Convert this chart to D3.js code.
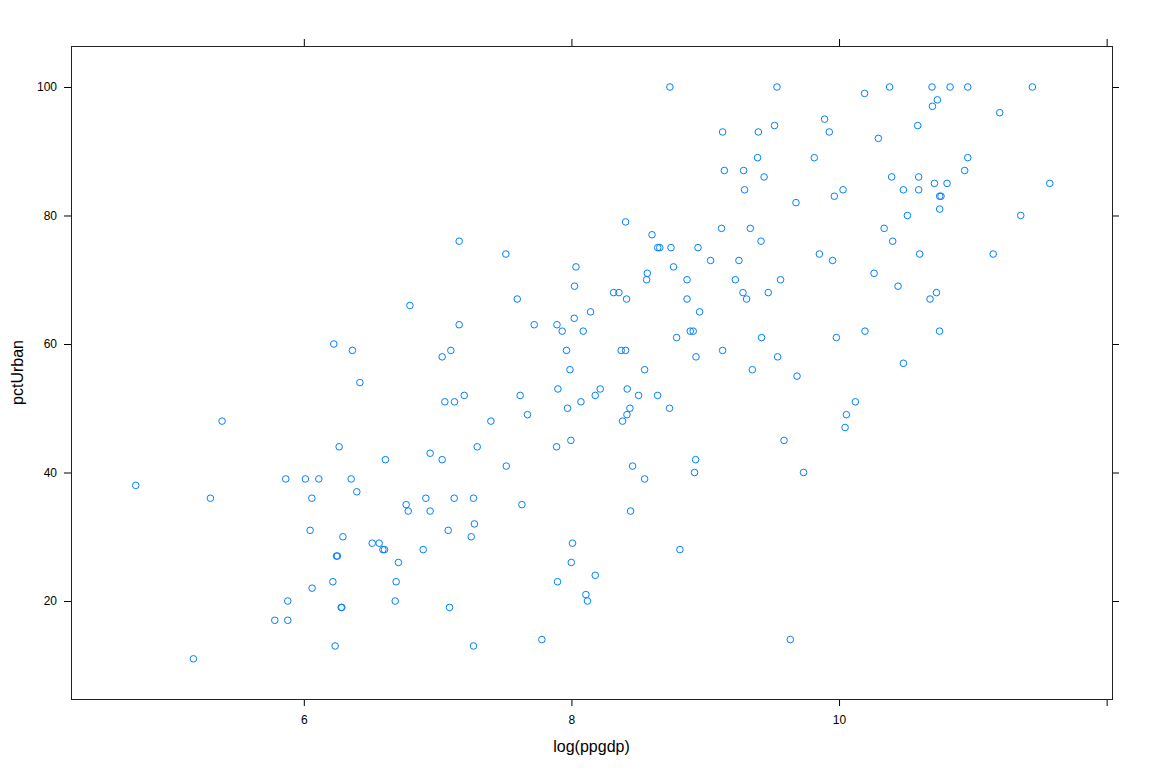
<!DOCTYPE html>
<html>
<head>
<meta charset="utf-8">
<script src="https://cdn.jsdelivr.net/npm/d3@7"></script>
<style>
    body { margin: 0; background: #fff; }
    text { font-family: "Liberation Sans", Arial, Helvetica, sans-serif; }
</style>
</head>
<body>
<div id="chart"></div>
<script>
const width = 1152;
const height = 768;
const margin = { top: 46, right: 40, bottom: 69, left: 71 };

// log(ppgdp) and pctUrban
const logPpgdp = [
    4.744, 5.302, 5.865, 6.012, 6.112, 6.354, 6.396, 6.06, 6.765, 6.78,
    6.912, 6.944, 6.047, 6.292, 6.511, 6.563, 6.591, 6.603, 6.892, 6.244,
    6.251, 6.707, 6.217, 6.69, 6.062, 5.88, 6.683, 6.279, 6.284, 5.783,
    5.88, 6.234, 5.175,
    6.793, 6.224, 6.363, 6.419, 5.389, 6.264, 6.61, 6.944,
    8.736, 9.13, 9.143, 9.287, 9.294, 8.405, 8.602, 8.645, 8.66, 8.744,
    8.946, 9.122, 9.337, 9.04, 9.252, 8.034, 8.763, 8.567, 7.161, 7.51,
    9.536, 10.191, 10.378, 10.695, 10.83, 10.962, 11.445, 10.735, 10.698, 11.201,
    9.892, 9.518, 10.588, 9.397, 9.927, 10.294, 9.391, 9.815, 10.962, 10.939,
    9.44, 10.393, 10.595, 10.713, 10.807, 11.575, 10.03, 10.481, 10.595, 9.965,
    10.752, 10.762, 9.678, 10.752, 10.511, 11.358, 10.337, 9.417, 10.401, 9.853,
    9.952, 10.603, 11.152, 10.262,
    9.563, 10.441, 9.282, 9.471, 10.728, 9.309, 10.68, 9.421, 9.98, 10.194,
    10.751, 9.541, 9.352, 10.481, 9.686, 10.122, 10.055, 10.045, 9.589, 9.735,
    9.636,
    8.562, 8.864, 9.225, 8.023, 8.315, 8.355, 8.412, 8.864, 7.595, 8.143,
    8.958, 8.021, 7.161, 7.722, 7.892, 7.931, 8.088, 8.888, 8.91, 8.786,
    9.13, 8.931, 7.099, 7.034, 7.963, 8.372, 8.405, 7.989, 8.547, 7.899,
    8.215, 8.417, 7.617, 8.178, 8.502, 8.644, 7.199, 7.054, 7.126, 8.071,
    7.971, 8.437, 8.733, 7.672, 8.415, 8.382, 7.398, 7.996, 7.296, 7.889,
    7.034, 8.928, 7.513, 8.457, 8.92,
    8.547, 7.124, 7.268, 7.63, 8.442, 7.275, 7.079, 7.251, 8.008, 8.811,
    7.999, 8.178, 7.896, 8.108, 8.12, 7.089, 7.779, 7.268
];

const pctUrban = [
    38, 36, 39, 39, 39, 39, 37, 36, 35, 34,
    36, 34, 31, 30, 29, 29, 28, 28, 28, 27,
    27, 26, 23, 23, 22, 20, 20, 19, 19, 17,
    17, 13, 11,
    66, 60, 59, 54, 48, 44, 42, 43,
    100, 93, 87, 87, 84, 79, 77, 75, 75, 75,
    75, 78, 78, 73, 73, 72, 72, 71, 76, 74,
    100, 99, 100, 100, 100, 100, 100, 98, 97, 96,
    95, 94, 94, 93, 93, 92, 89, 89, 89, 87,
    86, 86, 86, 85, 85, 85, 84, 84, 84, 83,
    83, 83, 82, 81, 80, 80, 78, 76, 76, 74,
    73, 74, 74, 71,
    70, 69, 68, 68, 68, 67, 67, 61, 61, 62,
    62, 58, 56, 57, 55, 51, 49, 47, 45, 40,
    14,
    70, 70, 70, 69, 68, 68, 67, 67, 67, 65,
    65, 64, 63, 63, 63, 62, 62, 62, 62, 61,
    59, 58, 59, 58, 59, 59, 59, 56, 56, 53,
    53, 53, 52, 52, 52, 52, 52, 51, 51, 51,
    50, 50, 50, 49, 49, 48, 48, 45, 44, 44,
    42, 42, 41, 41, 40,
    39, 36, 36, 35, 34, 32, 31, 30, 29, 28,
    26, 24, 23, 21, 20, 19, 14, 13
];

const xTicks = [6, 8, 10, 12];
const xTickLabels = ["6", "8", "10", ""];
const yTicks = [20, 40, 60, 80, 100];

const points = logPpgdp.map((v, i) => ({ x: v, y: pctUrban[i] }));

const innerW = width - margin.left - margin.right;
const innerH = height - margin.top - margin.bottom;

const x = d3.scaleLinear()
    .domain([4.26, 12.04])
    .range([0, innerW]);

const y = d3.scaleLinear()
    .domain([4.75, 106.38])
    .range([innerH, 0]);

const svg = d3.select("#chart")
    .append("svg")
    .attr("width", width)
    .attr("height", height);

const g = svg.append("g")
    .attr("transform", `translate(${margin.left},${margin.top})`);

function styleAxis(sel) {
    sel.select(".domain").remove();
    sel.selectAll(".tick line").attr("stroke", "#000");
    sel.selectAll(".tick text")
        .attr("fill", "#000")
        .attr("font-size", "12px")
        .attr("font-family", "'Liberation Sans', Arial, sans-serif");
}

g.append("g")
    .attr("transform", `translate(0,${innerH})`)
    .call(d3.axisBottom(x).tickValues(xTicks)
        .tickFormat((d, i) => xTickLabels[i])
        .tickSize(7).tickPadding(9))
    .call(styleAxis);

g.append("g")
    .call(d3.axisTop(x).tickValues(xTicks).tickFormat("").tickSize(7))
    .call(styleAxis);

g.append("g")
    .call(d3.axisLeft(y).tickValues(yTicks).tickSize(7).tickPadding(7))
    .call(styleAxis);

g.append("g")
    .attr("transform", `translate(${innerW},0)`)
    .call(d3.axisRight(y).tickValues(yTicks).tickFormat("").tickSize(7))
    .call(styleAxis);

g.append("rect")
    .attr("x", 0.5)
    .attr("y", 0.5)
    .attr("width", innerW)
    .attr("height", innerH)
    .attr("fill", "none")
    .attr("stroke", "#222")
    .attr("stroke-width", 1);

g.selectAll("circle")
    .data(points)
    .enter()
    .append("circle")
    .attr("cx", d => x(d.x))
    .attr("cy", d => y(d.y))
    .attr("r", 3.3)
    .attr("fill", "none")
    .attr("stroke", "#0080ff")
    .attr("stroke-width", 1);

svg.append("text")
    .attr("x", margin.left + innerW / 2)
    .attr("y", 752)
    .attr("text-anchor", "middle")
    .attr("font-size", "16px")
    .text("log(ppgdp)");

svg.append("text")
    .attr("transform", `translate(23,${margin.top + innerH / 2}) rotate(-90)`)
    .attr("text-anchor", "middle")
    .attr("font-size", "16px")
    .text("pctUrban");
</script>
</body>
</html>
